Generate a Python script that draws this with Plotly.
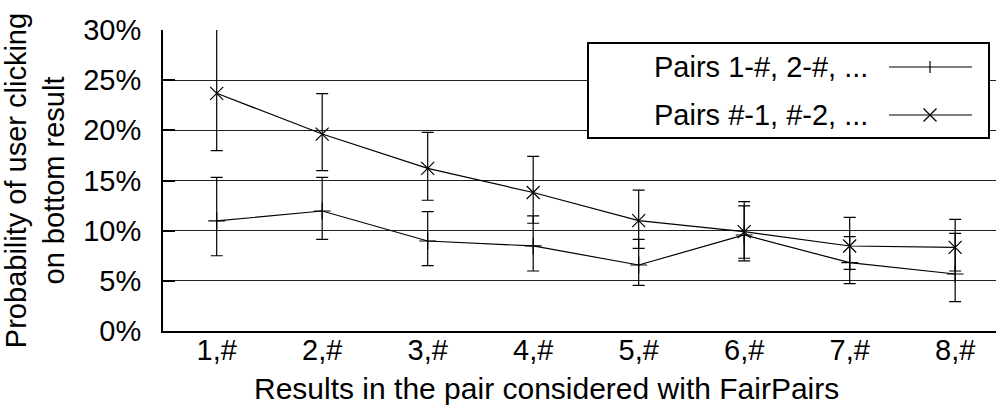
import plotly.graph_objects as go

# ---------------- data ----------------
categories = ["1,#", "2,#", "3,#", "4,#", "5,#", "6,#", "7,#", "8,#"]

# Pairs 1-#, 2-#, ...  (plus markers)
first_val = [10.97, 11.96, 8.97, 8.48, 6.58, 9.57, 6.81, 5.68]
first_hi = [15.31, 15.31, 11.89, 11.47, 9.14, 12.47, 9.40, 9.74]
first_lo = [7.50, 9.14, 6.51, 5.98, 4.55, 7.25, 4.72, 2.92]

# Pairs #-1, #-2, ...  (x markers)
second_val = [23.69, 19.63, 16.21, 13.80, 11.00, 9.90, 8.47, 8.34]
second_hi = [31.50, 23.65, 19.80, 17.40, 14.05, 12.90, 11.33, 11.13]
second_lo = [17.97, 15.98, 13.03, 10.74, 8.24, 6.98, 6.15, 5.98]

series_names = ["Pairs 1-#, 2-#, ...", "Pairs #-1, #-2, ..."]
y_ticks = [0, 5, 10, 15, 20, 25, 30]
y_tick_text = ["0%", "5%", "10%", "15%", "20%", "25%", "30%"]

x_title = "Results in the pair considered with FairPairs"
y_title = "Probability of user clicking<br>on bottom result"

# ---------------- layout geometry ----------------
W, H = 997, 406
ML, MR, MT, MB = 163, 1, 30, 75
PW, PH = W - ML - MR, H - MT - MB
FONT = "Liberation Sans, Arial, Helvetica, sans-serif"
FS = 29


def px_x(px):
    return (px - ML) / PW


def px_y(py):
    return (H - MB - py) / PH


fig = go.Figure()

fig.add_trace(go.Scatter(
    x=categories, y=first_val, mode="lines+markers", name=series_names[0],
    line=dict(color="black", width=1.2),
    marker=dict(symbol="cross-thin", size=12, color="black",
                line=dict(color="black", width=1.2)),
    error_y=dict(type="data", symmetric=False,
                 array=[h - v for h, v in zip(first_hi, first_val)],
                 arrayminus=[v - l for v, l in zip(first_val, first_lo)],
                 color="black", thickness=1.2, width=6),
    showlegend=False,
))
fig.add_trace(go.Scatter(
    x=categories, y=second_val, mode="lines+markers", name=series_names[1],
    line=dict(color="black", width=1.2),
    marker=dict(symbol="x-thin", size=13, color="black",
                line=dict(color="black", width=1.2)),
    error_y=dict(type="data", symmetric=False,
                 array=[h - v for h, v in zip(second_hi, second_val)],
                 arrayminus=[v - l for v, l in zip(second_val, second_lo)],
                 color="black", thickness=1.2, width=6),
    showlegend=False,
))

# ---------------- manual legend (symbol right of text) ----------------
shapes = []
annotations = []
lx0, lx1 = px_x(588), px_x(989)
ly0, ly1 = px_y(138), px_y(43)
shapes.append(dict(type="rect", xref="paper", yref="paper",
                   x0=lx0, x1=lx1, y0=ly0, y1=ly1,
                   fillcolor="white", line=dict(color="black", width=2),
                   layer="above"))
row_y = [px_y(67), px_y(115)]
text_right = px_x(870)
samp_x0, samp_x1, samp_xm = px_x(889), px_x(972), px_x(930)
for i, name in enumerate(series_names):
    annotations.append(dict(xref="paper", yref="paper", x=text_right, y=row_y[i],
                            xanchor="right", yanchor="middle", text=name,
                            showarrow=False, font=dict(family=FONT, size=FS, color="black")))
    shapes.append(dict(type="line", xref="paper", yref="paper",
                       x0=samp_x0, x1=samp_x1, y0=row_y[i], y1=row_y[i],
                       line=dict(color="black", width=1.2), layer="above"))
# plus glyph
shapes.append(dict(type="line", xref="paper", yref="paper", xsizemode="pixel", ysizemode="pixel",
                   xanchor=samp_xm, yanchor=row_y[0], x0=0, x1=0, y0=-6, y1=6,
                   line=dict(color="black", width=1.2), layer="above"))
# x glyph
for sgn in (1, -1):
    shapes.append(dict(type="line", xref="paper", yref="paper", xsizemode="pixel", ysizemode="pixel",
                       xanchor=samp_xm, yanchor=row_y[1], x0=-6.5, x1=6.5, y0=-6.5 * sgn, y1=6.5 * sgn,
                       line=dict(color="black", width=1.2), layer="above"))

# x-axis title as annotation
annotations.append(dict(xref="paper", yref="paper", x=px_x(546), y=px_y(388),
                        xanchor="center", yanchor="middle", text=x_title, showarrow=False,
                        font=dict(family=FONT, size=30, color="black")))

fig.update_layout(
    width=W, height=H,
    margin=dict(l=ML, r=MR, t=MT, b=MB, pad=0),
    paper_bgcolor="white", plot_bgcolor="white",
    font=dict(family=FONT, size=FS, color="black"),
    shapes=shapes, annotations=annotations,
    showlegend=False,
)
fig.update_xaxes(
    type="category", range=[-0.509, 7.387], automargin=False,
    showline=True, linecolor="black", linewidth=2,
    ticks="", showgrid=False, zeroline=False,
    tickfont=dict(family=FONT, size=FS, color="black"),
    ticklabelstandoff=-8,
)
fig.update_yaxes(
    range=[0, 30], tickvals=y_ticks, ticktext=y_tick_text, automargin=False,
    showline=True, linecolor="black", linewidth=2,
    ticks="inside", ticklen=12, tickwidth=2, tickcolor="black",
    showgrid=True, gridcolor="#222222", gridwidth=1, zeroline=False,
    tickfont=dict(family=FONT, size=FS, color="black"),
    ticklabelstandoff=14,
    title=dict(text=y_title, font=dict(family=FONT, size=FS, color="black"), standoff=12),
)

fig.write_html("out.html")
